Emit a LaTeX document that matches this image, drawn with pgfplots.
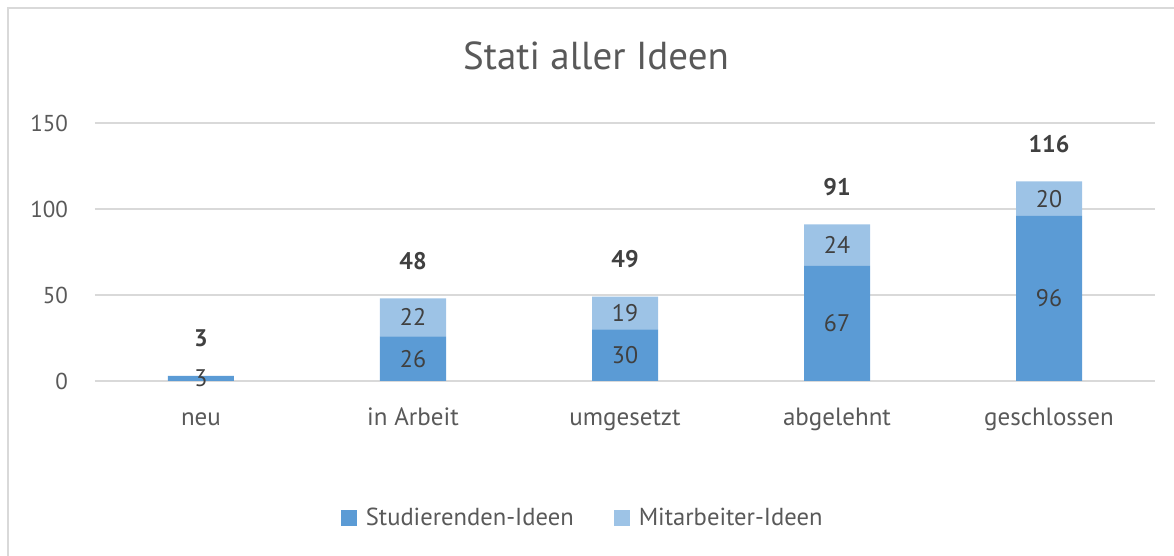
\documentclass[border=0pt]{standalone}
\usepackage{pgfplots}
\pgfplotsset{compat=1.18}
\usepackage{fontspec}
\setmainfont{PT Sans}
\definecolor{dblue}{HTML}{5B9BD5}
\definecolor{lblue}{HTML}{9DC3E6}
\definecolor{gridc}{HTML}{D9D9D9}
\definecolor{txt}{HTML}{595959}
\definecolor{dtxt}{HTML}{404040}
\pgfplotsset{
  base/.style={
    at={(47.5pt,87.5pt)}, anchor=south west, scale only axis,
    width=530pt, height=129pt,
    xmin=-0.5, xmax=4.5, ymin=0, ymax=150,
  }
}
\begin{document}
\begin{tikzpicture}[x=1pt,y=1pt]
\path[use as bounding box] (0,0) rectangle (587,278);
\draw[gridc, line width=1pt] (4,0) -- (4,274) -- (587,274);
\node[txt, font=\fontsize{19.5}{23}\selectfont] at (298,250) {Stati aller Ideen};
\begin{axis}[base,
  ybar stacked, bar width=33pt,
  axis line style={draw=none},
  major tick length=0pt,
  ymajorgrids, grid style={gridc, line width=1pt},
  xtick={0,1,2,3,4},
  xticklabels={neu,in Arbeit,umgesetzt,abgelehnt,geschlossen},
  ytick={0,50,100,150},
  /pgf/number format/assume math mode=true,
  tick label style={txt},
  y tick label style={anchor=east, xshift=-10pt, font=\fontsize{11.5}{13}\selectfont},
  x tick label style={anchor=base, yshift=-22.5pt, font=\fontsize{12.5}{14}\selectfont},
  legend style={draw=none, at={(0.461,-0.531)}, anchor=center,
    legend columns=2, font=\fontsize{12.3}{14}\selectfont, text=txt,
    /tikz/every even column/.append style={column sep=18pt}},
  legend image code/.code={\fill[#1] (0pt,-4pt) rectangle (8pt,4pt); \path (10.5pt,0pt);},
]
\addplot[fill=dblue, draw=none] coordinates {(0,3) (1,26) (2,30) (3,67) (4,96)};
\addlegendentry{Studierenden-Ideen}
\addplot[fill=lblue, draw=none] coordinates {(0,0) (1,22) (2,19) (3,24) (4,20)};
\addlegendentry{Mitarbeiter-Ideen}
\end{axis}
\begin{axis}[base, hide axis]
\addplot[draw=none, mark=none, nodes near coords, point meta=explicit symbolic,
  nodes near coords style={anchor=center, text=dtxt, font=\fontsize{12}{14}\selectfont}]
  table[meta=l] {
x y l
0 1.5 3
1 13 26
2 15 30
3 33.5 67
4 48 96
1 37 22
2 39.5 19
3 79 24
4 106 20
};
\addplot[draw=none, mark=none, nodes near coords, point meta=explicit symbolic,
  nodes near coords style={anchor=center, text=dtxt, font=\fontsize{12}{14}\selectfont\bfseries}]
  table[meta=l] {
x y l
0 24.8 3
1 69.8 48
2 70.8 49
3 112.8 91
4 137.8 116
};
\end{axis}
\end{tikzpicture}
\end{document}
